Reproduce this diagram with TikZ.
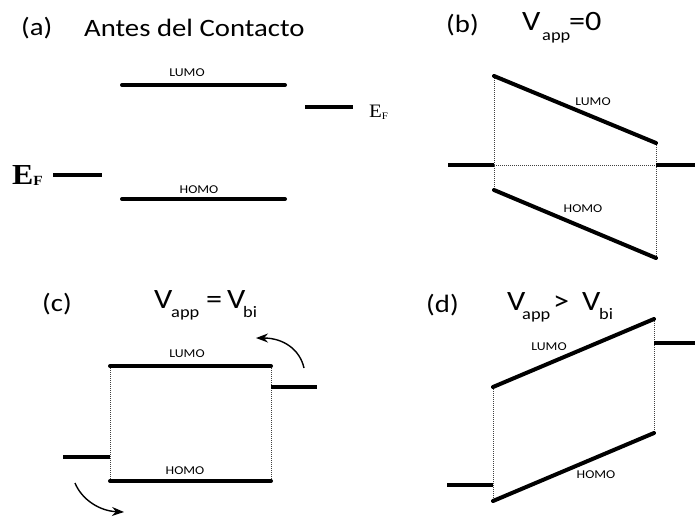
\documentclass[tikz,border=0pt]{standalone}
\usepackage{fontspec}
\usetikzlibrary{arrows.meta}
\newfontfamily\ttlfont[FakeStretch=1.15]{Carlito}
\newfontfamily\efont[FakeStretch=1.1]{Liberation Serif}
\tikzset{
  level/.style={line width=4pt, line cap=round},
  fermi/.style={line width=4pt, line cap=butt},
  guide/.style={line width=1pt, black!75, dash pattern=on 1.2pt off 0.8pt},
  ttl/.style={font=\ttlfont\fontsize{25}{30}\selectfont, inner sep=0pt, anchor=base west},
  vsym/.style={font=\ttlfont\fontsize{28}{32}\selectfont, inner sep=0pt, anchor=base west},
  subs/.style={font=\ttlfont\fontsize{16}{18}\selectfont, inner sep=0pt, anchor=base west},
  lbl/.style={font=\ttlfont\fontsize{12}{14}\selectfont, inner sep=0pt},
  curvarrow/.style={line width=1.4pt, -{Stealth[length=12pt,width=9pt]}},
}
\begin{document}
\begin{tikzpicture}[x=1pt,y=-1pt]
\useasboundingbox[fill=white] (0,0) rectangle (695,517);

% ---------------- (a)
\node[ttl] (ta) at (21,35) {(a)};
\node[ttl] (tatext) at (84,36) {Antes del Contacto};
\coordinate (aL1) at (122,85); \coordinate (aL2) at (285,85);
\coordinate (aH1) at (122,199); \coordinate (aH2) at (285,199);
\coordinate (aE1) at (53,175); \coordinate (aE2) at (102,175);
\coordinate (aR1) at (305,107); \coordinate (aR2) at (353,107);
\draw[level] (aL1) -- (aL2);
\draw[level] (aH1) -- (aH2);
\draw[fermi] (aE1) -- (aE2);
\draw[fermi] (aR1) -- (aR2);
\node[lbl] (alumo) at (187,73) {LUMO};
\node[lbl] (ahomo) at (199,190) {HOMO};
\node[inner sep=0pt, anchor=base west, font=\efont\bfseries\fontsize{29}{32}\selectfont] (aEFl) at (12,184) {E\raisebox{-1pt}{\fontsize{14}{15}\selectfont F}};
\node[inner sep=0pt, anchor=base west, font=\efont\fontsize{19}{22}\selectfont] (aEFr) at (369,117) {E\raisebox{-2pt}{\fontsize{10}{12}\selectfont F}};

% ---------------- (b)
\node[ttl] (tb) at (446,32) {(b)};
\node[vsym] (bV) at (522,30) {V};
\node[subs] (bapp) at (542,40) {app};
\node[vsym] (beq) at (569,30) {=0};
\coordinate (bL1) at (494,76); \coordinate (bL2) at (656,143);
\coordinate (bH1) at (494,190); \coordinate (bH2) at (656,258);
\coordinate (bF1) at (494,165); \coordinate (bF2) at (656,165);
\coordinate (bE1) at (448,165); \coordinate (bE2) at (695,165);
\draw[guide] (bL1) -- (bH1);
\draw[guide] (bL2) -- (bH2);
\draw[guide] (bF1) -- (bF2);
\draw[fermi] (bE1) -- (bF1);
\draw[fermi] (bF2) -- (bE2);
\draw[level] (bL1) -- (bL2);
\draw[level] (bH1) -- (bH2);
\node[lbl] (blumo) at (593,102) {LUMO};
\node[lbl] (bhomo) at (583,209) {HOMO};

% ---------------- (c)
\node[ttl] (tc) at (42,311) {(c)};
\node[vsym] (cV) at (154,308) {V};
\node[subs] (capp) at (171,317) {app};
\node[vsym] (ceq) at (206,308) {=};
\node[vsym] (cV2) at (227,308) {V};
\node[subs] (cbi) at (243,317) {bi};
\coordinate (cL1) at (110,366); \coordinate (cL2) at (271,366);
\coordinate (cH1) at (110,481); \coordinate (cH2) at (271,481);
\coordinate (cE1) at (63,457); \coordinate (cE2) at (110,457);
\coordinate (cR1) at (271,387); \coordinate (cR2) at (317,387);
\draw[guide] (cL1) -- (cH1);
\draw[guide] (cL2) -- (cH2);
\draw[level] (cL1) -- (cL2);
\draw[level] (cH1) -- (cH2);
\draw[fermi] (cE1) -- (cE2);
\draw[fermi] (cR1) -- (cR2);
\node[lbl] (clumo) at (187,354) {LUMO};
\node[lbl] (chomo) at (185,471) {HOMO};
\coordinate (cA1) at (304,368); \coordinate (cA2) at (256,338);
\coordinate (cB1) at (75,483); \coordinate (cB2) at (124,512);
\draw[curvarrow] (cA1) .. controls (300,350) and (284,338) .. (cA2);
\draw[curvarrow] (cB1) .. controls (82,500) and (100,511) .. (cB2);

% ---------------- (d)
\node[ttl] (td) at (426,312) {(d)};
\node[vsym] (dV) at (507,310) {V};
\node[subs] (dapp) at (522,319) {app};
\node[vsym] (dgt) at (553,310) {>};
\node[vsym] (dV2) at (582,310) {V};
\node[subs] (dbi) at (599,319) {bi};
\coordinate (dL1) at (493,387); \coordinate (dL2) at (654,319);
\coordinate (dH1) at (493,501); \coordinate (dH2) at (654,433);
\coordinate (dE1) at (447,485); \coordinate (dE2) at (493,485);
\coordinate (dR1) at (654,343); \coordinate (dR2) at (695,343);
\draw[guide] (dL1) -- (dH1);
\draw[guide] (dL2) -- (dH2);
\draw[level] (dL1) -- (dL2);
\draw[level] (dH1) -- (dH2);
\draw[fermi] (dE1) -- (dE2);
\draw[fermi] (dR1) -- (dR2);
\node[lbl] (dlumo) at (549,347) {LUMO};
\node[lbl] (dhomo) at (596,475) {HOMO};
\end{tikzpicture}
\end{document}
